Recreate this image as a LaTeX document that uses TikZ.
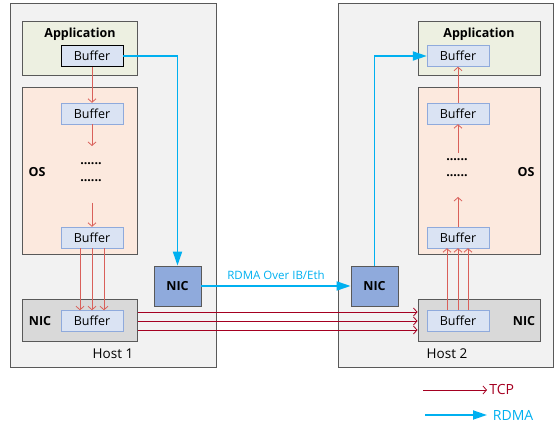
\documentclass[tikz,border=0pt]{standalone}
\usepackage{fontspec}
\setmainfont{Open Sans}
\usetikzlibrary{arrows.meta}
\definecolor{hostfill}{HTML}{F2F2F2}
\definecolor{appfill}{HTML}{EDF0E1}
\definecolor{osfill}{HTML}{FCE9DE}
\definecolor{nicfill}{HTML}{D9D9D9}
\definecolor{buffill}{HTML}{DAE3F3}
\definecolor{bufline}{HTML}{8FAADC}
\definecolor{rnicfill}{HTML}{8FAADC}
\definecolor{rdmablue}{HTML}{00B0F0}
\definecolor{tcpred}{HTML}{A50021}
\definecolor{tcplight}{HTML}{D9605A}
\definecolor{frame}{HTML}{595959}
\begin{document}
\begin{tikzpicture}[x=1pt,y=-1pt,
    every node/.style={inner sep=0pt,font=\fontsize{12.5}{14}\selectfont},
    hostbox/.style={draw=frame,fill=hostfill,line width=1pt,minimum width=#1,minimum height=364},
    layerbox/.style={draw=frame,line width=1pt,minimum width=#1},
    bufbox/.style={draw=bufline,fill=buffill,minimum width=62,minimum height=21},
    rnicbox/.style={draw=frame,fill=rnicfill,line width=0.8pt,minimum width=47,minimum height=40,font=\fontsize{12.5}{14}\selectfont\bfseries},
    tcp/.style={draw=tcplight,line width=0.8pt,-{Straight Barb[length=3.5pt,width=8pt]}},
    tcplong/.style={draw=tcpred,line width=0.8pt,-{Straight Barb[length=3.5pt,width=8pt]}},
    rdma/.style={draw=rdmablue,line width=1.8pt,-{Triangle[length=14pt,width=9pt]}},
    lbl/.style={font=\fontsize{12.5}{14}\selectfont\bfseries}]
    \useasboundingbox (0,0) rectangle (560,427);
    \node [hostbox=206] (host1) at (113,186) {};
    \node [hostbox=215] (host2) at (445.5,186) {};
    \node [layerbox=115,fill=appfill,minimum height=54] (app1) at (79.5,49) {};
    \node [layerbox=115,fill=osfill,minimum height=167] (os1) at (79.5,171.5) {};
    \node [layerbox=115,fill=nicfill,minimum height=42] (nic1) at (79.5,321) {};
    \node [layerbox=122,fill=appfill,minimum height=54] (app2) at (479,49) {};
    \node [layerbox=122,fill=osfill,minimum height=167] (os2) at (479,171.5) {};
    \node [layerbox=122,fill=nicfill,minimum height=42] (nic2) at (479,321) {};
    \node [lbl] (app1lbl) at (80,34) {Application};
    \node [lbl] (app2lbl) at (479,34) {Application};
    \node [lbl] (os1lbl) at (37,172) {OS};
    \node [lbl] (os2lbl) at (526,172) {OS};
    \node [lbl] (nic1lbl) at (40,321) {NIC};
    \node [lbl] (nic2lbl) at (524,321) {NIC};
    \node [bufbox,draw=black,line width=0.8pt] (app1buf) at (92,56) {Buffer};
    \node [bufbox] (os1bufa) at (92,113.5) {Buffer};
    \node [bufbox] (os1bufb) at (92,237.5) {Buffer};
    \node [bufbox] (nic1buf) at (92,321) {Buffer};
    \node [bufbox] (app2buf) at (458,56) {Buffer};
    \node [bufbox] (os2bufa) at (458,113.5) {Buffer};
    \node [bufbox] (os2bufb) at (458,237.5) {Buffer};
    \node [bufbox] (nic2buf) at (458,321) {Buffer};
    \node [lbl] (dots1a) at (91,164) {......};
    \node [lbl] (dots1b) at (91,181) {......};
    \node [lbl] (dots2a) at (457,160) {......};
    \node [lbl] (dots2b) at (457,176) {......};
    \node (host1lbl) at (113,354) {\fontsize{13.5}{15}\selectfont Host 1};
    \node (host2lbl) at (447,354) {\fontsize{13.5}{15}\selectfont Host 2};
    \node [rnicbox] (rnic1) at (177.5,286) {NIC};
    \node [rnicbox] (rnic2) at (374.5,286) {NIC};
    \coordinate (os1mida) at (92,146);
    \coordinate (os1midb) at (92,203);
    \coordinate (os2mida) at (458,153);
    \coordinate (os2midb) at (458,197);
    \draw [tcp] (app1buf) -- (os1bufa);
    \draw [tcp] (os1bufa) -- (os1mida);
    \draw [tcp] (os1midb) -- (os1bufb);
    \foreach \dx in {-12,0,12}
        \draw [tcp] ([xshift=\dx]os1bufb.south) -- ([xshift=\dx]nic1buf.north);
    \foreach \dy in {-9,0,9}
        \draw [tcplong] ([yshift=\dy]nic1.east) -- ([yshift=\dy]nic2.west);
    \foreach \dx in {-11,0,10}
        \draw [tcp] ([xshift=\dx]nic2buf.north) -- ([xshift=\dx]os2bufb.south);
    \draw [tcp] (os2bufb) -- (os2midb);
    \draw [tcp] (os2mida) -- (os2bufa);
    \draw [tcp] (os2bufa) -- (app2buf);
    \draw [rdma] (app1buf.east) -| (rnic1.north);
    \draw [rdma] (rnic1.east) -- node [above=5pt,text=rdmablue,font=\fontsize{11.5}{13}\selectfont] (rdmalbl) {RDMA Over IB/Eth} (rnic2.west);
    \draw [rdma] (rnic2.north) |- (app2buf.west);
    \coordinate (tcpa) at (423,390);
    \coordinate (tcpb) at (487,390);
    \coordinate (rdmaa) at (425,415);
    \coordinate (rdmab) at (487,415);
    \draw [tcplong] (tcpa) -- (tcpb) node [right=2pt,text=tcpred,font=\fontsize{14}{16}\selectfont] (tcplbl) {TCP};
    \draw [rdma] (rdmaa) -- (rdmab) node [right=5pt,text=rdmablue,font=\fontsize{14}{16}\selectfont] (rdmaleg) {RDMA};
\end{tikzpicture}
\end{document}
